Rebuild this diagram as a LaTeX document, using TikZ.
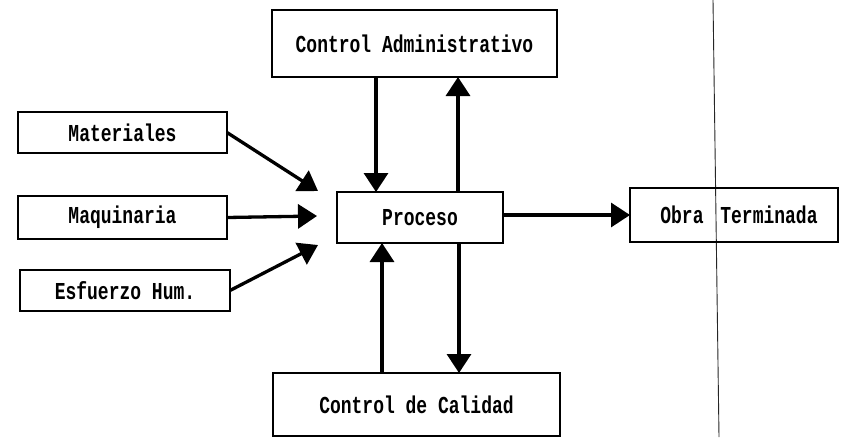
\documentclass[tikz,border=0pt]{standalone}
\usepackage{fontspec}
\setmonofont{Liberation Mono}
\usetikzlibrary{arrows.meta}
\newcommand{\lbltxt}[1]{\scalebox{1}[1.35]{#1}}
\begin{document}
\begin{tikzpicture}[x=1pt,y=-1pt,
  box/.style={draw, line width=1.9pt, inner sep=0pt, outer sep=0pt,
    font=\ttfamily\bfseries\fontsize{18}{20}\selectfont},
  arr/.style={line width=3.3pt, -{Triangle[length=19pt,width=24pt]}}]
\useasboundingbox (0,0) rectangle (845,437);
\fill[white] (0,0) rectangle (845,437);
% scan line
\coordinate (s1) at (713,0);
\coordinate (s2) at (719,437);
\draw[line width=0.9pt, black!85] (s1) -- (s2);
% boxes
\node[box, minimum width=285pt, minimum height=67pt] (ca) at (414.5,43.5) {\lbltxt{Control Administrativo}};
\node[box, minimum width=209pt, minimum height=41pt] (mat) at (122.5,132.5) {\lbltxt{Materiales}};
\node[box, minimum width=209pt, minimum height=43pt] (maq) at (122.5,217.5) {\lbltxt{Maquinaria}};
\node[box, minimum width=210pt, minimum height=41pt] (esf) at (125,290.5) {\lbltxt{Esfuerzo Hum.}};
\node[box, minimum width=166pt, minimum height=51pt] (pr) at (420,217.5) {\lbltxt{Proceso}};
\node[box, minimum width=208pt, minimum height=54pt] (ob) at (734,215) {\hspace*{10pt}\lbltxt{Obra\kern6pt\ Terminada}};
\node[box, minimum width=287pt, minimum height=63pt] (cc) at (416.5,404.5) {\lbltxt{Control de Calidad}};
% column coordinates
\coordinate (xa) at (376,0);
\coordinate (xb) at (458,0);
\coordinate (xc) at (459,0);
\coordinate (xd) at (382,0);
\coordinate (tipM) at (318,191);
\coordinate (tipQ) at (317,216);
\coordinate (tipE) at (318,245);
% connectors
\draw[arr] (ca.south -| xa) -- (pr.north -| xa);
\draw[arr] (pr.north -| xb) -- (ca.south -| xb);
\draw[arr] (pr.south -| xc) -- (cc.north -| xc);
\draw[arr] (cc.north -| xd) -- (pr.south -| xd);
\draw[arr] (mat.east) -- (tipM);
\draw[arr] (maq.east) -- (tipQ);
\draw[arr] (esf.east) -- (tipE);
\draw[arr] (pr.east |- ob.west) -- (ob.west);
\end{tikzpicture}
\end{document}
